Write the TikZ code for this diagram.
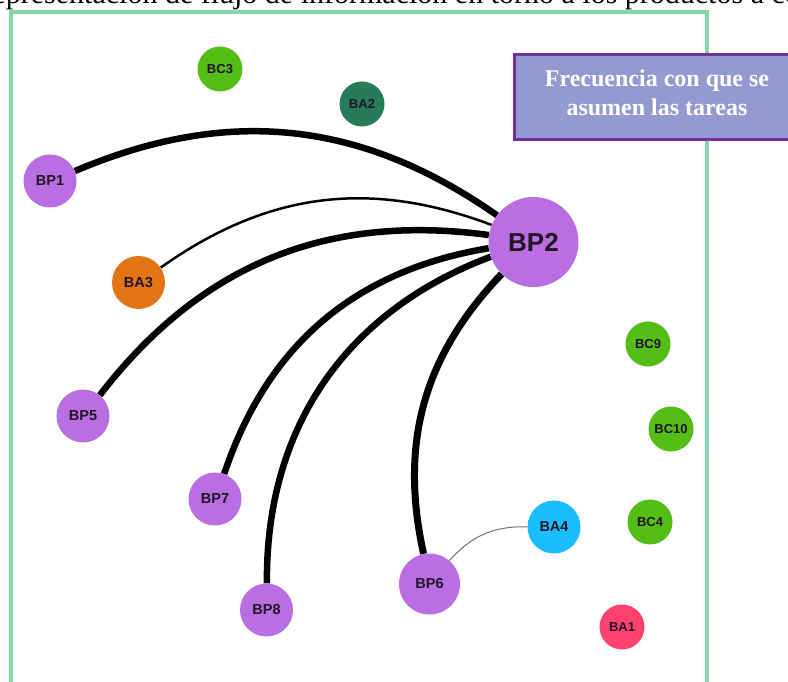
\documentclass[tikz,border=0pt]{standalone}
\usepackage{fontspec}
\setmainfont{Liberation Serif}
\newfontfamily\labelfont{Liberation Sans}
\usetikzlibrary{backgrounds}
\definecolor{framegreen}{RGB}{128,216,168}
\definecolor{legfill}{RGB}{148,153,208}
\definecolor{legdraw}{RGB}{112,48,160}
\definecolor{bpcol}{RGB}{185,110,225}
\definecolor{bccol}{RGB}{84,190,22}
\definecolor{ba2col}{RGB}{38,124,90}
\definecolor{ba3col}{RGB}{227,116,21}
\definecolor{ba4col}{RGB}{26,190,255}
\definecolor{ba1col}{RGB}{255,66,110}
\definecolor{labcol}{RGB}{35,20,40}
\begin{document}
\begin{tikzpicture}[x=1pt,y=1pt,
  nd/.style={circle, inner sep=0pt, text=labcol,
    font=\labelfont\bfseries\fontsize{14.5}{16}\selectfont},
  small/.style={nd, minimum size=45pt, font=\labelfont\bfseries\fontsize{13}{15}\selectfont},
  mid/.style={nd, minimum size=53pt},
  edge/.style={draw=black, line cap=butt},
  thinedge/.style={draw=black!55, line width=1pt},
  legtext/.style={anchor=base, text=white, font=\bfseries\fontsize{24}{29}\selectfont, inner sep=0pt}]
\useasboundingbox (0,0) rectangle (788,681);
\clip (0,0) rectangle (788,681);
% title (cut off at top)
\node[anchor=base east, inner sep=0pt, font=\fontsize{30}{34}\selectfont] (title) at (800,677.5)
  {Representación de flujo de información en torno a los productos a co};
% frame
\draw[framegreen, line width=3.5pt] (11,669) rectangle (707,-20);
% legend
\node[draw=legdraw, line width=2.7pt, fill=legfill, minimum width=290pt, minimum height=85pt,
  anchor=north west, inner sep=0pt] (legend) at (513,628) {};
\node[legtext] (leg1) at (657,594.3) {Frecuencia con que se};
\node[legtext] (leg2) at (657,565) {asumen las tareas};
% nodes
\node[small, fill=bccol] (BC3) at (220,612) {BC3};
\node[small, fill=ba2col] (BA2) at (362,577) {BA2};
\node[mid, fill=bpcol] (BP1) at (50,500) {BP1};
\node[nd, fill=bpcol, minimum size=90pt, font=\labelfont\bfseries\fontsize{26}{30}\selectfont] (BP2) at (533.5,439) {BP2};
\node[mid, fill=ba3col] (BA3) at (138.5,398.5) {BA3};
\node[small, fill=bccol] (BC9) at (648,337) {BC9};
\node[mid, fill=bpcol] (BP5) at (83,265) {BP5};
\node[small, fill=bccol] (BC10) at (671,252) {BC10};
\node[mid, fill=bpcol] (BP7) at (215,182) {BP7};
\node[mid, fill=ba4col] (BA4) at (554,154) {BA4};
\node[small, fill=bccol] (BC4) at (650,159) {BC4};
\node[nd, fill=bpcol, minimum size=61pt] (BP6) at (429.5,97) {BP6};
\node[mid, fill=bpcol] (BP8) at (266.5,71) {BP8};
\node[small, fill=ba1col] (BA1) at (622,54) {BA1};
% edges
\begin{pgfonlayer}{background}
\draw[edge, line width=6.5pt] (BP1) to[bend left=29] (BP2);
\draw[edge, line width=2.5pt] (BA3) to[bend left=28] (BP2);
\draw[edge, line width=6.5pt] (BP5) to[bend left=30] (BP2);
\draw[edge, line width=6.5pt] (BP7) to[bend left=31] (BP2);
\draw[edge, line width=6.5pt] (BP8) to[bend left=35] (BP2);
\draw[edge, line width=7pt] (BP6) to[bend left=28] (BP2);
\draw[thinedge] (BP6) to[bend left=25] (BA4);
\end{pgfonlayer}
\end{tikzpicture}
\end{document}
